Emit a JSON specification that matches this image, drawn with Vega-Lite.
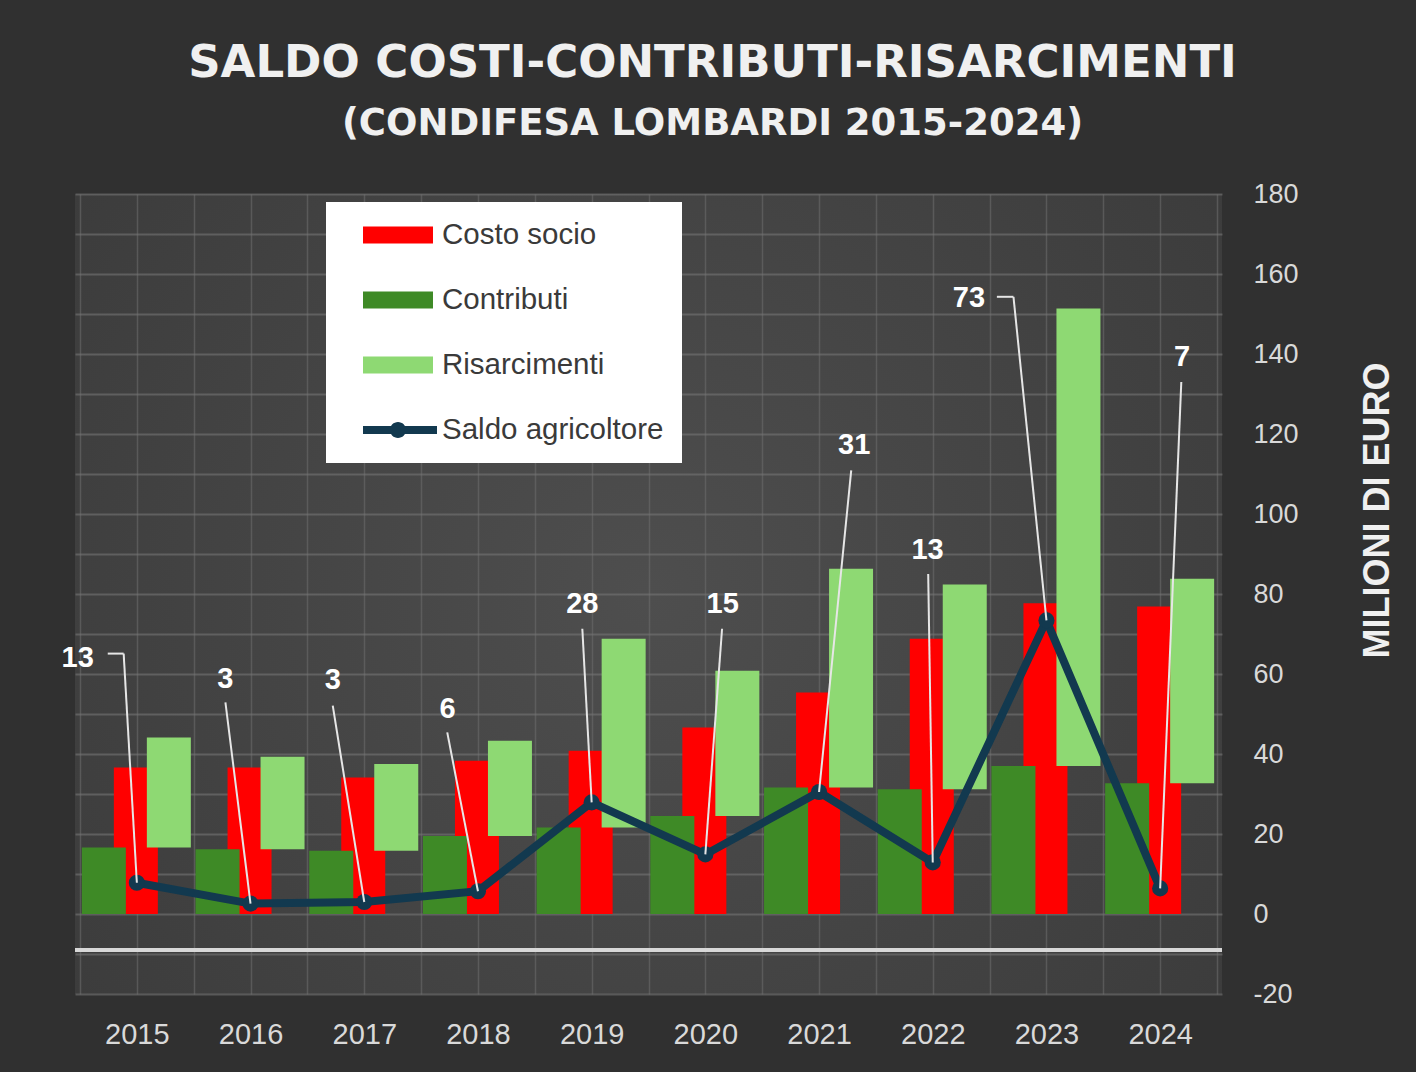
{
  "$schema": "https://vega.github.io/schema/vega-lite/v6.json",
  "width": 1147,
  "height": 800,
  "autosize": {"type": "none"},
  "padding": {"left": 75, "top": 194, "right": 194, "bottom": 78},
  "background": "#303030",
  "title": {
    "text": "SALDO COSTI-CONTRIBUTI-RISARCIMENTI",
    "subtitle": "(CONDIFESA LOMBARDI 2015-2024)",
    "anchor": "middle",
    "frame": "group",
    "dx": 64,
    "offset": 38,
    "font": "DejaVu Sans",
    "fontSize": 45,
    "fontWeight": "bold",
    "color": "#f0f0f0",
    "subtitleFont": "DejaVu Sans",
    "subtitleFontSize": 37,
    "subtitleFontWeight": "bold",
    "subtitleColor": "#f0f0f0",
    "subtitlePadding": 20
  },
  "config": {
    "view": {
      "stroke": null,
      "fill": {
        "gradient": "radial",
        "x1": 0.5, "y1": 0.5, "r1": 0,
        "x2": 0.5, "y2": 0.5, "r2": 0.75,
        "stops": [
          {"offset": 0, "color": "#4e4e4e"},
          {"offset": 1, "color": "#383838"}
        ]
      }
    },
    "axis": {"ticks": false, "domain": false, "labelFont": "Liberation Sans", "labelColor": "#d9d9d9"},
    "axisY": {
      "tickCount": 30,
      "grid": true, "gridColor": "#747474", "gridWidth": 2, "gridOpacity": 0.6,
      "labelExpr": "datum.value % 20 === 0 ? toString(datum.value) : ''",
      "labelAlign": "left", "labelPadding": 31, "labelFontSize": 27,
      "titleFont": "Liberation Sans", "titleFontSize": 36, "titleFontWeight": "bold", "titleColor": "#f0f0f0",
      "titleAngle": 270, "titleX": 155, "titleY": 316, "titleAlign": "center", "titleBaseline": "middle"
    }
  },
  "data": {
    "values": [
      {"year": 2015, "costo": 36.6, "contributi": 16.6, "risarcimenti": 27.5, "saldo": 7.8, "etichetta": "13", "lab_x": 2014.48, "lab_y": 64.1, "lead_x": 2014.884, "lead_y": 65.1, "hook_x": 2014.744},
      {"year": 2016, "costo": 36.6, "contributi": 16.2, "risarcimenti": 23.1, "saldo": 2.6, "etichetta": "3", "lab_x": 2015.779, "lab_y": 58.8, "lead_x": 2015.779, "lead_y": 52.9},
      {"year": 2017, "costo": 34.1, "contributi": 15.8, "risarcimenti": 21.7, "saldo": 3.0, "etichetta": "3", "lab_x": 2016.723, "lab_y": 58.6, "lead_x": 2016.723, "lead_y": 52.1},
      {"year": 2018, "costo": 38.3, "contributi": 19.5, "risarcimenti": 23.8, "saldo": 5.7, "etichetta": "6", "lab_x": 2017.732, "lab_y": 51.3, "lead_x": 2017.73, "lead_y": 45.4},
      {"year": 2019, "costo": 40.8, "contributi": 21.6, "risarcimenti": 47.2, "saldo": 27.9, "etichetta": "28", "lab_x": 2018.918, "lab_y": 77.5, "lead_x": 2018.918, "lead_y": 71.3},
      {"year": 2020, "costo": 46.6, "contributi": 24.5, "risarcimenti": 36.3, "saldo": 14.9, "etichetta": "15", "lab_x": 2020.152, "lab_y": 77.5, "lead_x": 2020.147, "lead_y": 71.3},
      {"year": 2021, "costo": 55.4, "contributi": 31.6, "risarcimenti": 54.7, "saldo": 30.5, "etichetta": "31", "lab_x": 2021.309, "lab_y": 117.2, "lead_x": 2021.283, "lead_y": 110.9},
      {"year": 2022, "costo": 68.8, "contributi": 31.2, "risarcimenti": 51.2, "saldo": 12.9, "etichetta": "13", "lab_x": 2021.954, "lab_y": 90.9, "lead_x": 2021.96, "lead_y": 85.0},
      {"year": 2023, "costo": 77.7, "contributi": 37.0, "risarcimenti": 114.4, "saldo": 73.4, "etichetta": "73", "lab_x": 2022.318, "lab_y": 153.9, "lead_x": 2022.71, "lead_y": 154.3, "hook_x": 2022.564},
      {"year": 2024, "costo": 76.9, "contributi": 32.7, "risarcimenti": 51.1, "saldo": 6.4, "etichetta": "7", "lab_x": 2024.192, "lab_y": 139.3, "lead_x": 2024.186, "lead_y": 133.0}
    ]
  },
  "encoding": {
    "x": {
      "field": "year",
      "type": "quantitative",
      "title": null,
      "scale": {"domain": [2014.5, 2024.5], "nice": false, "zero": false},
      "axis": {
        "values": [2014.5, 2015, 2015.5, 2016, 2016.5, 2017, 2017.5, 2018, 2018.5, 2019, 2019.5, 2020, 2020.5, 2021, 2021.5, 2022, 2022.5, 2023, 2023.5, 2024, 2024.5],
        "tickCount": 30,
        "labelExpr": "datum.value % 1 === 0 ? toString(datum.value) : ''",
        "grid": true,
        "gridColor": "#6a6a6a",
        "gridWidth": 1.5,
        "gridOpacity": 0.6,
        "labelFontSize": 29,
        "labelPadding": 26,
        "labelFlush": false,
        "labelOverlap": false,
        "title": null
      }
    }
  },
  "layer": [
    {
      "mark": {"type": "bar", "orient": "vertical", "width": 44, "xOffset": -1, "color": "#ff0000"},
      "encoding": {
        "y": {
          "field": "costo",
          "type": "quantitative",
          "title": "MILIONI DI EURO",
          "scale": {"domain": [-20, 180], "nice": false},
          "axis": {
            "orient": "right",
            "values": [-20, -10, 0, 10, 20, 30, 40, 50, 60, 70, 80, 90, 100, 110, 120, 130, 140, 150, 160, 170, 180],
            "tickCount": 30,
            "labelOverlap": false,
            "title": "MILIONI DI EURO"
          }
        },
        "fill": {
          "datum": "Costo socio",
          "type": "nominal",
          "scale": {"domain": ["Costo socio", "Contributi", "Risarcimenti", "Saldo agricoltore"], "range": ["#ff0000", "#3e8a26", "#8ed973", "#12394f"]},
          "legend": {
            "orient": "none", "legendX": 251, "legendY": 8, "title": null,
            "fillColor": "#ffffff", "padding": 18, "symbolSize": 900,
            "labelFont": "Liberation Sans", "labelFontSize": 29.5, "labelColor": "#3a3a3a", "labelLimit": 400,
            "rowPadding": 35, "labelOffset": 68, "symbolStrokeWidth": 0
          }
        }
      }
    },
    {
      "mark": {"type": "bar", "orient": "vertical", "width": 44, "xOffset": -33},
      "encoding": {
        "y": {
          "field": "contributi", "type": "quantitative", "title": "MILIONI DI EURO",
          "axis": {"orient": "right", "values": [-20, -10, 0, 10, 20, 30, 40, 50, 60, 70, 80, 90, 100, 110, 120, 130, 140, 150, 160, 170, 180], "tickCount": 30, "labelOverlap": false, "title": "MILIONI DI EURO"}
        },
        "fill": {"datum": "Contributi", "type": "nominal"}
      }
    },
    {
      "transform": [{"fold": ["contributi", "risarcimenti"], "as": ["voce", "valore"]}],
      "mark": {"type": "bar", "orient": "vertical", "width": 44, "xOffset": 32},
      "encoding": {
        "y": {
          "field": "valore", "type": "quantitative", "stack": "zero", "title": "MILIONI DI EURO",
          "axis": {"orient": "right", "values": [-20, -10, 0, 10, 20, 30, 40, 50, 60, 70, 80, 90, 100, 110, 120, 130, 140, 150, 160, 170, 180], "tickCount": 30, "labelOverlap": false, "title": "MILIONI DI EURO"}
        },
        "detail": {"field": "voce"},
        "order": {"field": "voce", "sort": "ascending"},
        "fill": {"datum": "Risarcimenti", "type": "nominal"},
        "opacity": {"condition": {"test": "datum.voce === 'contributi'", "value": 0}, "value": 1}
      }
    },
    {
      "mark": {"type": "rule", "color": "#d8d8d8", "strokeWidth": 3},
      "encoding": {
        "x": null,
        "y": {
          "datum": -9, "type": "quantitative", "title": "MILIONI DI EURO",
          "axis": {"orient": "right", "values": [-20, -10, 0, 10, 20, 30, 40, 50, 60, 70, 80, 90, 100, 110, 120, 130, 140, 150, 160, 170, 180], "tickCount": 30, "labelOverlap": false, "title": "MILIONI DI EURO"}
        }
      }
    },
    {
      "mark": {"type": "line", "color": "#12394f", "strokeWidth": 8},
      "encoding": {
        "y": {
          "field": "saldo", "type": "quantitative", "title": "MILIONI DI EURO",
          "axis": {"orient": "right", "values": [-20, -10, 0, 10, 20, 30, 40, 50, 60, 70, 80, 90, 100, 110, 120, 130, 140, 150, 160, 170, 180], "tickCount": 30, "labelOverlap": false, "title": "MILIONI DI EURO"}
        }
      }
    },
    {
      "mark": {"type": "circle", "size": 260, "color": "#12394f", "opacity": 1},
      "encoding": {
        "y": {
          "field": "saldo", "type": "quantitative", "title": "MILIONI DI EURO",
          "axis": {"orient": "right", "values": [-20, -10, 0, 10, 20, 30, 40, 50, 60, 70, 80, 90, 100, 110, 120, 130, 140, 150, 160, 170, 180], "tickCount": 30, "labelOverlap": false, "title": "MILIONI DI EURO"}
        }
      }
    },
    {
      "transform": [{"filter": "false"}],
      "mark": {"type": "point", "filled": true, "opacity": 1},
      "encoding": {
        "y": {
          "field": "saldo", "type": "quantitative", "title": "MILIONI DI EURO",
          "axis": {"orient": "right", "values": [-20, -10, 0, 10, 20, 30, 40, 50, 60, 70, 80, 90, 100, 110, 120, 130, 140, 150, 160, 170, 180], "tickCount": 30, "labelOverlap": false, "title": "MILIONI DI EURO"}
        },
        "fill": {"datum": "Saldo agricoltore", "type": "nominal"},
        "shape": {
          "datum": "Saldo agricoltore",
          "type": "nominal",
          "scale": {
            "domain": ["Costo socio", "Contributi", "Risarcimenti", "Saldo agricoltore"],
            "range": [
              "M0.267,-0.567H4.933V0.567H0.267Z",
              "M0.267,-0.567H4.933V0.567H0.267Z",
              "M0.267,-0.567H4.933V0.567H0.267Z",
              "M0.267,-0.27H5.2V0.27H0.267Z M2.067,0A0.533,0.533 0 1,1 3.133,0A0.533,0.533 0 1,1 2.067,0Z"
            ]
          },
          "legend": {
            "orient": "none", "legendX": 251, "legendY": 8, "title": null,
            "fillColor": "#ffffff", "padding": 18, "symbolSize": 900,
            "labelFont": "Liberation Sans", "labelFontSize": 29.5, "labelColor": "#3a3a3a", "labelLimit": 400,
            "rowPadding": 35, "labelOffset": 68, "symbolStrokeWidth": 0
          }
        }
      }
    },
    {
      "mark": {"type": "rule", "color": "#e6e6e6", "strokeWidth": 2},
      "encoding": {
        "x": {"field": "lead_x", "type": "quantitative"},
        "x2": {"field": "year"},
        "y": {
          "field": "lead_y", "type": "quantitative", "title": "MILIONI DI EURO",
          "axis": {"orient": "right", "values": [-20, -10, 0, 10, 20, 30, 40, 50, 60, 70, 80, 90, 100, 110, 120, 130, 140, 150, 160, 170, 180], "tickCount": 30, "labelOverlap": false, "title": "MILIONI DI EURO"}
        },
        "y2": {"field": "saldo"}
      }
    },
    {
      "transform": [{"filter": "isValid(datum.hook_x)"}],
      "mark": {"type": "rule", "color": "#e6e6e6", "strokeWidth": 2},
      "encoding": {
        "x": {"field": "hook_x", "type": "quantitative"},
        "x2": {"field": "lead_x"},
        "y": {
          "field": "lead_y", "type": "quantitative", "title": "MILIONI DI EURO",
          "axis": {"orient": "right", "values": [-20, -10, 0, 10, 20, 30, 40, 50, 60, 70, 80, 90, 100, 110, 120, 130, 140, 150, 160, 170, 180], "tickCount": 30, "labelOverlap": false, "title": "MILIONI DI EURO"}
        }
      }
    },
    {
      "mark": {"type": "text", "font": "Liberation Sans", "fontSize": 29, "fontWeight": "bold", "color": "#ffffff", "baseline": "middle", "align": "center"},
      "encoding": {
        "x": {"field": "lab_x", "type": "quantitative"},
        "y": {
          "field": "lab_y", "type": "quantitative", "title": "MILIONI DI EURO",
          "axis": {"orient": "right", "values": [-20, -10, 0, 10, 20, 30, 40, 50, 60, 70, 80, 90, 100, 110, 120, 130, 140, 150, 160, 170, 180], "tickCount": 30, "labelOverlap": false, "title": "MILIONI DI EURO"}
        },
        "text": {"field": "etichetta"}
      }
    }
  ]
}
